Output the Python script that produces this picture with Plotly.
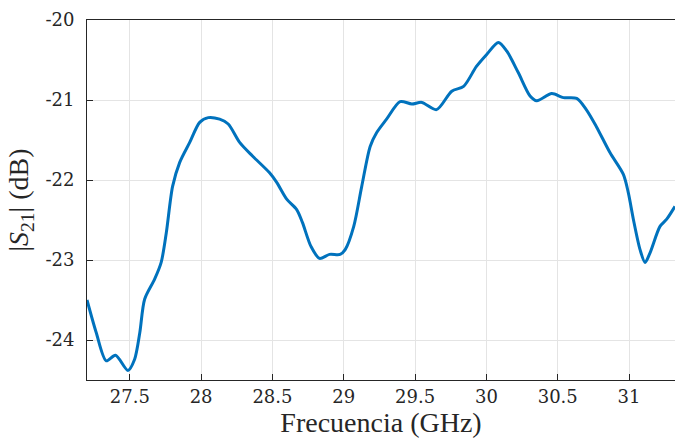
import plotly.graph_objects as go

freq_ghz = [27.2, 27.265, 27.335, 27.40, 27.487, 27.534, 27.57, 27.604, 27.674, 27.72,
            27.756, 27.80, 27.85, 27.92, 27.99, 28.05, 28.13, 28.19, 28.27, 28.36,
            28.48, 28.53, 28.60, 28.67, 28.71, 28.77, 28.83, 28.90, 28.974, 29.01,
            29.07, 29.126, 29.185, 29.23, 29.30, 29.395, 29.477, 29.547, 29.65, 29.757,
            29.84, 29.93, 30.002, 30.084, 30.143, 30.224, 30.306, 30.353, 30.458, 30.54,
            30.633, 30.70, 30.77, 30.867, 30.96, 30.995, 31.03, 31.077, 31.112, 31.147,
            31.217, 31.264, 31.322]
s21_db = [-23.50, -23.91, -24.26, -24.19, -24.38, -24.24, -23.91, -23.49, -23.24, -23.03,
          -22.66, -22.08, -21.78, -21.53, -21.28, -21.22, -21.24, -21.30, -21.53, -21.70,
          -21.91, -22.03, -22.24, -22.37, -22.53, -22.83, -22.98, -22.93, -22.93, -22.87,
          -22.58, -22.08, -21.58, -21.41, -21.24, -21.02, -21.05, -21.03, -21.12, -20.89,
          -20.83, -20.58, -20.43, -20.28, -20.39, -20.66, -20.95, -21.01, -20.92, -20.97,
          -20.98, -21.12, -21.33, -21.66, -21.93, -22.16, -22.49, -22.87, -23.03, -22.91,
          -22.58, -22.49, -22.33]

x_ticks = [27.5, 28, 28.5, 29, 29.5, 30, 30.5, 31]
x_ticktext = ["27.5", "28", "28.5", "29", "29.5", "30", "30.5", "31"]
y_ticks = [-24, -23, -22, -21, -20]
y_ticktext = ["-24", "-23", "-22", "-21", "-20"]

title_family = "Liberation Serif"
tick_family = "DejaVu Serif"
axis_color = "#262626"
grid_color = "#e4e4e4"

fig = go.Figure()
fig.add_trace(go.Scatter(
    x=freq_ghz, y=s21_db, mode="lines",
    line=dict(color="#0072BD", width=3, shape="spline", smoothing=0.8),
    showlegend=False,
))

tick_font = dict(family=tick_family, size=18, color=axis_color)

fig.update_layout(
    width=675, height=445,
    margin=dict(l=87, r=0, t=20, b=65),
    paper_bgcolor="white", plot_bgcolor="white",
    font=dict(family=title_family, size=23, color=axis_color),
    xaxis=dict(
        range=[27.2, 31.322], tickvals=x_ticks, ticktext=x_ticktext,
        tickfont=tick_font,
        showgrid=True, gridcolor=grid_color, gridwidth=1,
        showline=True, linecolor=axis_color, linewidth=1, mirror=True,
        ticks="inside", ticklen=6, tickcolor=axis_color,
        zeroline=False,
        title=dict(text="Frecuencia (GHz)", font=dict(family=title_family, size=28), standoff=5),
    ),
    yaxis=dict(
        range=[-24.5, -20], tickvals=y_ticks, ticktext=y_ticktext,
        tickfont=tick_font,
        showgrid=True, gridcolor=grid_color, gridwidth=1,
        showline=True, linecolor=axis_color, linewidth=1, mirror=False,
        ticks="inside", ticklen=6, tickcolor=axis_color,
        zeroline=False, ticklabelstandoff=8,
        title=dict(text="|<i>S</i><sub>21</sub>| (dB)", font=dict(family=title_family, size=28), standoff=8),
    ),
)

fig.write_html("out.html")
